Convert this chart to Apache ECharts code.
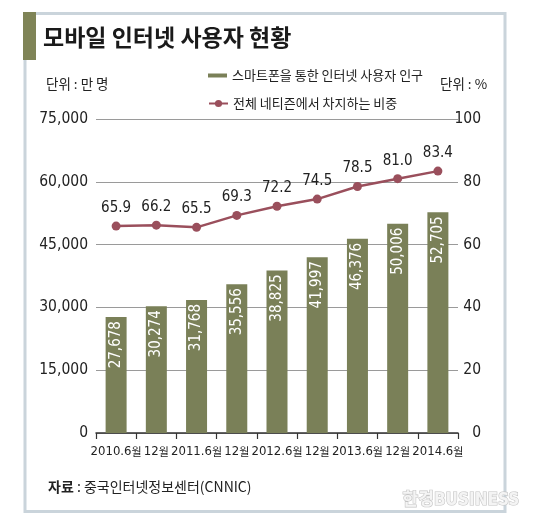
<!DOCTYPE html>
<html><head><meta charset="utf-8">
<script src="https://cdn.jsdelivr.net/npm/echarts@6/dist/echarts.min.js"></script>
<style>html,body{margin:0;padding:0;background:#fff}#c{width:540px;height:531px}</style>
</head><body><div id="c"></div>
<script>
const periods = ['2010.6','2010.12','2011.6','2011.12','2012.6','2012.12','2013.6','2013.12','2014.6'];
const tickLabels = ['2010.6월','12월','2011.6월','12월','2012.6월','12월','2013.6월','12월','2014.6월'];
const users = [27678, 30274, 31768, 35556, 38825, 41997, 46376, 50006, 52705];
const share = [65.9, 66.2, 65.5, 69.3, 72.2, 74.5, 78.5, 81.0, 83.4];
const leftTicks = {min: 0, max: 75000, interval: 15000};
const rightTicks = {min: 0, max: 100, interval: 20};
const barName = '스마트폰을 통한 인터넷 사용자 인구';
const lineName = '전체 네티즌에서 차지하는 비중';

const NUM = "'DejaVu Sans Condensed','Noto Sans CJK KR',sans-serif";
const KR = "'Noto Sans CJK KR',sans-serif";
const OLIVE = '#7a8058';
const MAROON = '#9a4f5c';

const chart = echarts.init(document.getElementById('c'));
chart.setOption({
  animation: false,
  backgroundColor: '#fff',
  title: {
    text: '모바일 인터넷 사용자 현황',
    left: 43, top: 26, padding: 0,
    textStyle: {fontFamily: KR, fontSize: 23, fontWeight: 'bold', color: '#1a1a1a'}
  },
  legend: [
    {data: [{name: barName, icon: 'rect'}], left: 208, top: 69, padding: 0,
     itemWidth: 19, itemHeight: 4,
     textStyle: {fontFamily: KR, fontSize: 13, color: '#222'}},
    {data: [{name: lineName}], left: 208, top: 97, padding: 0,
     itemWidth: 19, itemHeight: 9,
     textStyle: {fontFamily: KR, fontSize: 13, color: '#222'}}
  ],
  graphic: [
    {type: 'rect', shape: {x: 25, y: 13.5, width: 480, height: 498}, style: {fill: 'none', stroke: '#cad4db', lineWidth: 3}, z: 0},
    {type: 'rect', shape: {x: 23, y: 12, width: 13, height: 48}, style: {fill: '#7f8457'}, z: 1},
    {type: 'text', left: 46, top: 77, style: {text: '단위 : 만 명', font: '13.5px ' + KR, fill: '#222'}},
    {type: 'text', left: 440, top: 77, style: {text: '단위 : %', font: '13.5px ' + KR, fill: '#222'}},
    {type: 'text', left: 48, top: 480, style: {
      text: '{b|자료} : 중국인터넷정보센터(CNNIC)',
      font: '14px ' + KR, fill: '#222',
      rich: {b: {fontFamily: KR, fontSize: 14, fontWeight: 'bold', fill: '#222'}}
    }},
    {type: 'text', left: 402, top: 491, style: {text: '한경BUSINESS', font: 'bold 17px ' + NUM, fill: '#f4f4f4', stroke: '#c4c4c4', lineWidth: 1.2}}
  ],
  grid: {left: 96, right: 82, top: 119, bottom: 98, containLabel: false},
  xAxis: {
    type: 'category', data: periods, boundaryGap: true,
    axisLine: {lineStyle: {color: '#333', width: 1.5}},
    axisTick: {show: true, length: 6, alignWithLabel: false, lineStyle: {color: '#333', width: 1.2}},
    axisLabel: {
      interval: 0, margin: 12, color: '#222',
      formatter: (v, i) => {
        const t = tickLabels[i];
        const d = t.replace('월', '');
        return '{d|' + d + '}{k|월}';
      },
      rich: {
        d: {fontFamily: NUM, fontSize: 13, color: '#222'},
        k: {fontFamily: KR, fontSize: 11, color: '#222'}
      }
    }
  },
  yAxis: [
    {type: 'value', position: 'left', min: leftTicks.min, max: leftTicks.max, interval: leftTicks.interval,
     axisLine: {show: false}, axisTick: {show: false}, splitLine: {show: false},
     axisLabel: {margin: 8, fontFamily: NUM, fontSize: 15.5, color: '#222',
       formatter: v => v.toLocaleString('en-US')}},
    {type: 'value', position: 'right', min: rightTicks.min, max: rightTicks.max, interval: rightTicks.interval,
     axisLine: {show: false}, axisTick: {show: false},
     splitLine: {show: true, lineStyle: {color: '#9a9a9a', width: 1.2}},
     axisLabel: {margin: 23, align: 'right', fontFamily: NUM, fontSize: 15.5, color: '#222'}}
  ],
  series: [
    {name: barName, type: 'bar', yAxisIndex: 0, data: users, barWidth: 21,
     itemStyle: {color: OLIVE}, z: 2,
     label: {show: true, position: 'insideTop', rotate: 90, align: 'right', verticalAlign: 'middle',
       distance: 4, fontFamily: NUM, fontSize: 15, color: '#fff',
       formatter: p => p.value.toLocaleString('en-US')}},
    {name: lineName, type: 'line', yAxisIndex: 1, data: share,
     symbol: 'circle', symbolSize: 9, z: 3,
     lineStyle: {color: MAROON, width: 2.5}, itemStyle: {color: MAROON},
     label: {show: true, position: 'top', distance: 6, fontFamily: NUM, fontSize: 15, color: '#222',
       formatter: p => p.value.toFixed(1)}}
  ]
});
</script></body></html>
